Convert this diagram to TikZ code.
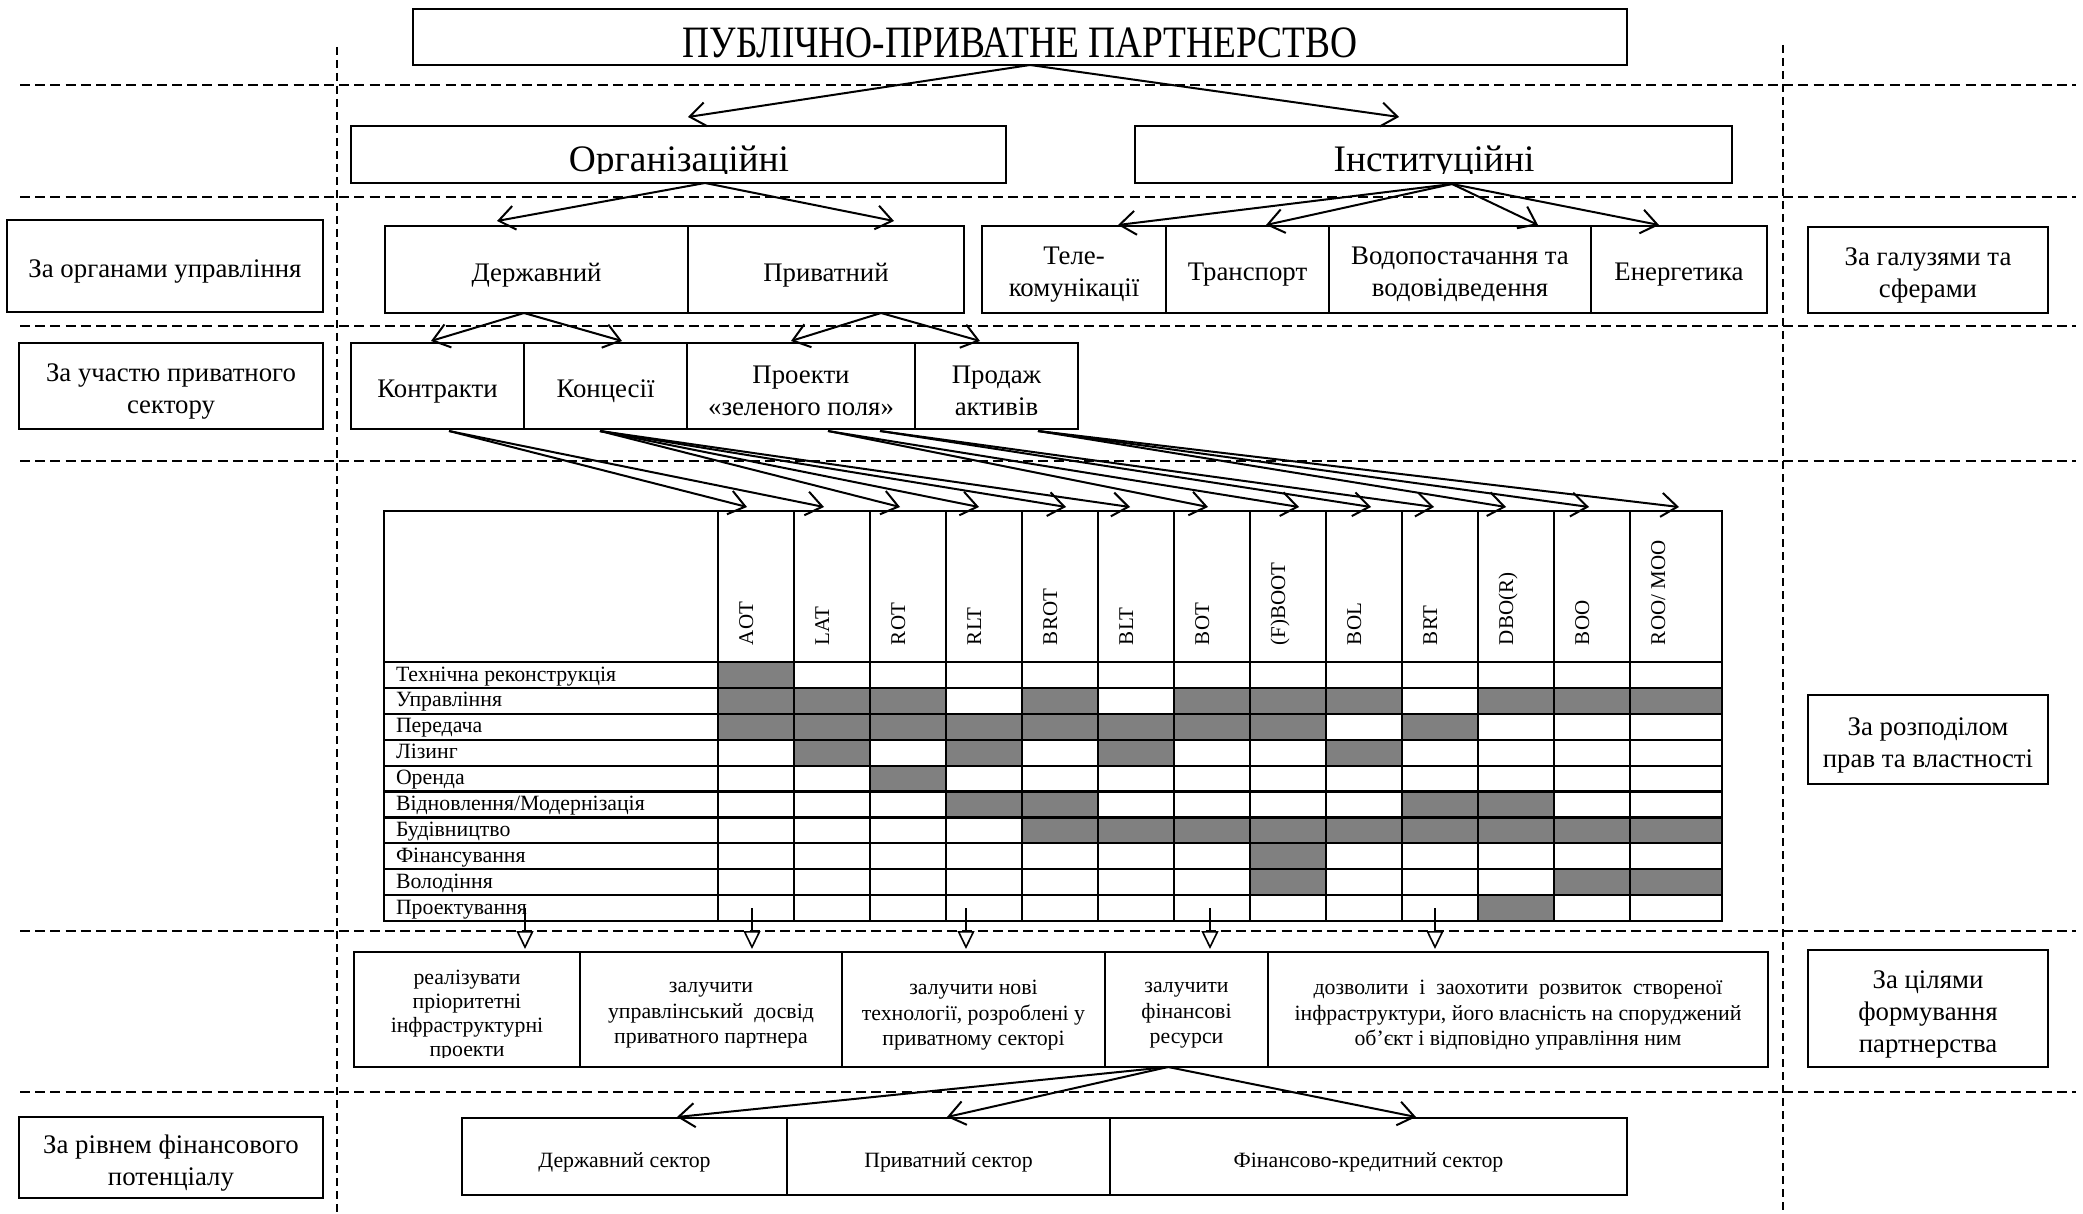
\documentclass[tikz,border=0pt]{standalone}
\usepackage{fontspec}
\usepackage{graphicx}
\setmainfont{Liberation Serif}
\usetikzlibrary{arrows.meta,calc}
% box node plus its centred text, lowered a little
\newcommand\tbox[5]{%
  \node[bx, rect={#2}] (#1) {};
  \node[#3, txt, yshift=#4] (#1-t) at (#1.center) {#5};}
\begin{document}
\begin{tikzpicture}[x=0.5pt,y=-0.5pt,
  rect/.style args={#1,#2,#3,#4}{at={({(#1+#3)/2},{(#2+#4)/2})},
     minimum width={(#3-#1)*0.5pt}, minimum height={(#4-#2)*0.5pt}},
  bx/.style={draw, line width=1.1pt, inner sep=0pt, outer sep=0pt},
  fbig/.style={font=\fontsize{18.7}{22}\selectfont},
  fmid/.style={font=\fontsize{13.4}{16}\selectfont},
  fsm/.style={font=\fontsize{10.9}{12.8}\selectfont},
  fhd/.style={font=\fontsize{10.5}{12}\selectfont},
  arr/.style={line width=1pt, -{Straight Barb[length=8pt,width=12pt]}},
  oarr/.style={line width=0.8pt, -{Triangle[length=9pt,width=8.5pt,fill=white]}},
  hdash/.style={line width=1pt, dash pattern=on 5pt off 2.6pt},
  vdash/.style={line width=0.8pt, dash pattern=on 4pt off 2.5pt},
  cell/.style={fill=black!50},
  txt/.style={inner sep=0pt, outer sep=0pt, align=center}
]
\useasboundingbox (0,0) rectangle (2083,1214);
\fill[white] (0,0) rectangle (2083,1214);
% dashed separators
\foreach \yy in {85,197,326,461,931,1092} \draw[hdash] (20,\yy) -- (2076,\yy);
\draw[vdash] (337,47) -- (337,1214);
\draw[vdash] (1783,45) -- (1783,1214);

% title
\node[bx, rect={413,9,1627,65}] (title) {};
\node[fbig, txt, anchor=base] (titletext) at (1020,58) {\scalebox{1}[1.2]{ПУБЛІЧНО-ПРИВАТНЕ ПАРТНЕРСТВО}};

% level 2
\node[bx, rect={351,126,1006,183}] (org) {};
\node[bx, rect={1135,126,1732,183}] (inst) {};
\begin{scope}
\clip (340,120) rectangle (1740,174);
\node[fbig, txt, anchor=base] (orgtext) at (679,172) {Організаційні};
\node[fbig, txt, anchor=base] (insttext) at (1434,172) {Інституційні};
\end{scope}

% side labels
\tbox{lab1}{7,220,323,312}{fmid}{-2.6pt}{За органами управління}
\tbox{lab2}{19,343,323,429}{fmid}{-2.6pt}{За участю приватного\\сектору}
\tbox{lab3}{19,1117,323,1198}{fmid}{-2.6pt}{За рівнем фінансового\\потенціалу}
\tbox{lab4}{1808,227,2048,313}{fmid}{-2.6pt}{За галузями та\\сферами}
\tbox{lab5}{1808,695,2048,784}{fmid}{-2.8pt}{За розподілом\\прав та властності}
\tbox{lab6}{1808,950,2048,1067}{fmid}{-2.8pt}{За цілями\\формування\\партнерства}

% level 3
\tbox{derzh}{385,226,688,313}{fmid}{-2.6pt}{Державний}
\tbox{pryv}{688,226,964,313}{fmid}{-2.6pt}{Приватний}
\tbox{tele}{982,226,1166,313}{fmid}{-2.6pt}{Теле-\\комунікації}
\tbox{trans}{1166,226,1329,313}{fmid}{-2.6pt}{Транспорт}
\tbox{vodo}{1329,226,1591,313}{fmid}{-2.6pt}{Водопостачання та\\водовідведення}
\tbox{energ}{1591,226,1767,313}{fmid}{-2.6pt}{Енергетика}

% level 4
\tbox{kontr}{351,343,524,429}{fmid}{-2.6pt}{Контракти}
\tbox{konc}{524,343,687,429}{fmid}{-2.6pt}{Концесії}
\tbox{proekt}{687,343,915,429}{fmid}{-2.6pt}{Проекти\\«зеленого поля»}
\tbox{prod}{915,343,1078,429}{fmid}{-2.6pt}{Продаж\\активів}

% table fills
\foreach \r/\c in {1/1,
  2/1,2/2,2/3,2/5,2/7,2/8,2/9,2/11,2/12,2/13,
  3/1,3/2,3/3,3/4,3/5,3/6,3/7,3/8,3/10,
  4/2,4/4,4/6,4/9,
  5/3,
  6/4,6/5,6/10,6/11,
  7/5,7/6,7/7,7/8,7/9,7/10,7/11,7/12,7/13,
  8/8,
  9/8,9/12,9/13,
  10/11} {
  \pgfmathsetmacro\xl{718+76*(\c-1)}
  \pgfmathsetmacro\xr{\c==13 ? 1722 : 718+76*\c}
  \pgfmathsetmacro\yt{662+25.9*(\r-1)}
  \pgfmathsetmacro\yb{662+25.9*\r}
  \fill[cell] (\xl,\yt) rectangle (\xr,\yb);
}
\node[draw, line width=1.2pt, inner sep=0pt, outer sep=0pt, rect={384,511,1722,921}] (table) {};
\foreach \k in {0,...,9} \draw[line width=1.1pt] (384,{662+25.9*\k}) -- (1722,{662+25.9*\k});
\foreach \xx in {718,794,...,1630} \draw[line width=0.9pt] (\xx,511) -- (\xx,921);

\foreach \t [count=\i] in {Технічна реконструкція, Управління, Передача, Лізинг, Оренда, Відновлення/Модернізація, Будівництво, Фінансування, Володіння, Проектування}
  \node[fsm, txt, anchor=base west] (row\i) at (396, {662+25.9*(\i-1)+19}) {\t};

\foreach \t [count=\i] in {AOT, LAT, ROT, RLT, BROT, BLT, BOT, (F)BOOT, BOL, BRT, DBO(R), BOO, ROO/ MOO}
  \node[fhd, txt, rotate=90, anchor=base west] (hd\i) at ({718+76*(\i-1)+35}, 645) {\t};

% goal boxes
\node[bx, rect={354,952,580,1067}] (g1) {};
\begin{scope}
\clip (354,952) rectangle (580,1057);
\node[txt, font=\fontsize{10.9}{12}\selectfont] (g1-t) at (467,1016) {реалізувати\\пріоритетні\\інфраструктурні\\проекти};
\end{scope}
\tbox{g2}{580,952,842,1067}{fsm}{-3pt}{залучити\\управлінський\ \ досвід\\приватного партнера}
\tbox{g3}{842,952,1105,1067}{fsm}{-3pt}{залучити нові\\технології, розроблені у\\приватному секторі}
\tbox{g4}{1105,952,1268,1067}{fsm}{-3pt}{залучити\\фінансові\\ресурси}
\tbox{g5}{1268,952,1768,1067}{fsm}{-3pt}{дозволити\ \ і\ \ заохотити\ \ розвиток\ \ створеної\\інфраструктури, його власність на споруджений\\об’єкт і відповідно управління ним}

% sector boxes
\tbox{s1}{462,1118,787,1195}{fsm}{-3pt}{Державний сектор}
\tbox{s2}{787,1118,1110,1195}{fsm}{-3pt}{Приватний сектор}
\tbox{s3}{1110,1118,1627,1195}{fsm}{-3pt}{Фінансово-кредитний сектор}

% connectors level 1-2
\coordinate (tb) at (1030,65);
\coordinate (orgIn) at (688,117);
\coordinate (instIn) at (1399,117);
\draw[arr] (tb) -- (orgIn);
\draw[arr] (tb) -- (instIn);
% level 2-3
\coordinate (orgB) at (705,183);
\coordinate (instB) at (1452,184);
\draw[arr] (orgB) -- (497,221) coordinate (derzhIn);
\draw[arr] (orgB) -- (894,221) coordinate (pryvIn);
\draw[arr] (instB) -- (1118,225) coordinate (teleIn);
\draw[arr] (instB) -- (1266,225) coordinate (transIn);
\draw[arr] (instB) -- (1538,225) coordinate (vodoIn);
\draw[arr] (instB) -- (1659,225) coordinate (energIn);
% level 3-4
\coordinate (derzhB) at (524,313);
\coordinate (pryvB) at (881,313);
\draw[arr] (derzhB) -- (431,341) coordinate (kontrIn);
\draw[arr] (derzhB) -- (622,341) coordinate (koncIn);
\draw[arr] (pryvB) -- (791,341) coordinate (proektIn);
\draw[arr] (pryvB) -- (980,341) coordinate (prodIn);
% level 4 - table
\foreach \xx [count=\i] in {747,824,900,979,1066,1130,1208,1299,1371,1434,1506,1589,1679}
  \coordinate (c\i) at (\xx,507);
\coordinate (sK) at (449,431);
\coordinate (sC) at (600,431);
\coordinate (sP1) at (828,431);
\coordinate (sP2) at (880,431);
\coordinate (sS) at (1038,431);
\foreach \i in {1,2} \draw[arr] (sK) -- (c\i);
\foreach \i in {3,...,6} \draw[arr] (sC) -- (c\i);
\foreach \i in {7,8} \draw[arr] (sP1) -- (c\i);
\foreach \i in {9,10} \draw[arr] (sP2) -- (c\i);
\foreach \i in {11,12,13} \draw[arr] (sS) -- (c\i);
% table - goals
\foreach \xx [count=\i] in {525,752,966,1210,1435} {
  \coordinate (u\i) at (\xx,908);
  \coordinate (v\i) at (\xx,949);
  \draw[oarr] (u\i) -- (v\i);
}
% goals - sectors
\coordinate (g4B) at (1168,1067);
\draw[arr] (g4B) -- (677,1117) coordinate (s1In);
\draw[arr] (g4B) -- (947,1117) coordinate (s2In);
\draw[arr] (g4B) -- (1416,1117) coordinate (s3In);
\end{tikzpicture}
\end{document}
